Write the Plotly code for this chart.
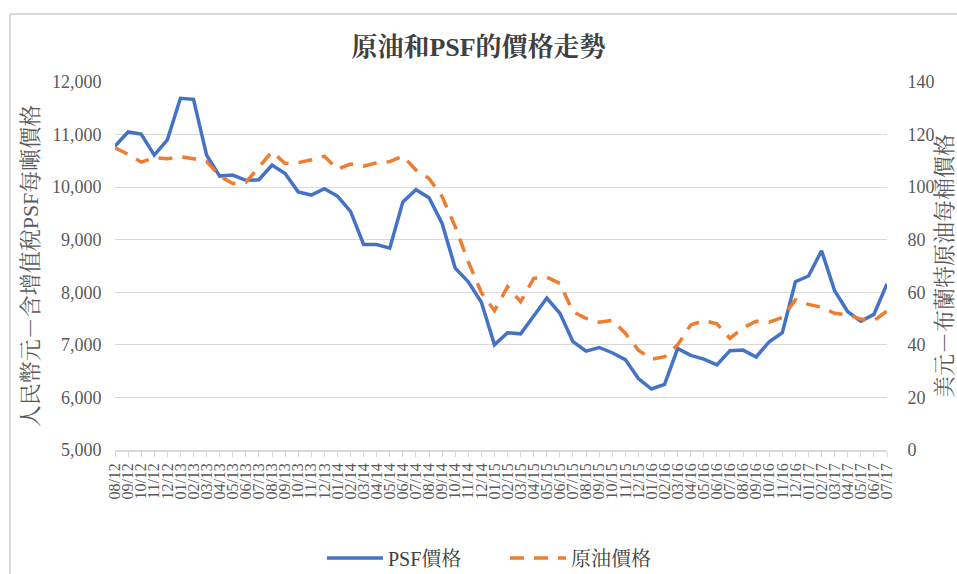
import plotly.graph_objects as go

months = ["08/12","09/12","10/12","11/12","12/12",
          "01/13","02/13","03/13","04/13","05/13","06/13","07/13","08/13","09/13","10/13","11/13","12/13",
          "01/14","02/14","03/14","04/14","05/14","06/14","07/14","08/14","09/14","10/14","11/14","12/14",
          "01/15","02/15","03/15","04/15","05/15","06/15","07/15","08/15","09/15","10/15","11/15","12/15",
          "01/16","02/16","03/16","04/16","05/16","06/16","07/16","08/16","09/16","10/16","11/16","12/16",
          "01/17","02/17","03/17","04/17","05/17","06/17","07/17"]

psf_price = [10780, 11050, 11010, 10610, 10900,
             11690, 11670, 10610, 10210, 10230, 10130, 10140, 10420, 10260, 9910, 9850, 9970,
             9830, 9540, 8910, 8910, 8840, 9720, 9950, 9800, 9310, 8460, 8200, 7810,
             7000, 7230, 7210, 7550, 7890, 7600, 7060, 6880, 6950, 6850, 6720, 6360,
             6160, 6250, 6930, 6800, 6730, 6620, 6890, 6900, 6770, 7060, 7230, 8200,
             8310, 8790, 8030, 7630, 7450, 7580, 8160]

crude_price = [115, 112.5, 109.5, 111.2, 110.8,
               111.6, 110.8, 109.8, 104.2, 101.4, 101.8, 107.8, 113.5, 109.0, 109.3, 110.4, 111.8,
               106.8, 108.8, 108.0, 109.3, 109.7, 111.8, 106.5, 103.3, 96.4, 85.0, 71.6, 59.9,
               53.0, 62.1, 56.4, 65.3, 65.7, 63.4, 52.6, 50.1, 48.6, 49.3, 44.4, 38.0,
               34.5, 35.5, 40.0, 47.6, 49.2, 48.0, 42.5, 46.5, 49.0, 48.6, 50.4, 57.1,
               55.4, 54.3, 52.0, 51.4, 49.8, 49.2, 52.9]

left_ticks = [5000, 6000, 7000, 8000, 9000, 10000, 11000, 12000]
right_ticks = [0, 20, 40, 60, 80, 100, 120, 140]

serif = "'Liberation Serif', 'Noto Serif CJK TC', 'Noto Sans CJK TC', serif"
grey_text = "#404040"

fig = go.Figure()
fig.add_trace(go.Scatter(
    x=months, y=psf_price, name="PSF價格", mode="lines",
    line=dict(color="#4472C4", width=3.5), yaxis="y"))
fig.add_trace(go.Scatter(
    x=months, y=crude_price, name="原油價格", mode="lines",
    line=dict(color="#ED7D31", width=3.5, dash="14px,10px"), yaxis="y2"))

W, H = 957, 574
L, R, T, B = 115, 887, 82, 450
pw, ph = R - L, B - T

def px_x(v):
    return (v - L) / pw

def px_y(v):
    return (B - v) / ph

fig.update_layout(
    width=W, height=H, autosize=False,
    margin=dict(l=L, r=W - R, t=T, b=H - B, autoexpand=False),
    paper_bgcolor="white", plot_bgcolor="white",
    title=dict(text="<b>原油和PSF的價格走勢</b>", x=0.5, xanchor="center",
               y=1 - 47 / H, yanchor="middle", yref="container",
               font=dict(family=serif, size=26, color=grey_text)),
    font=dict(family=serif, color=grey_text),
    showlegend=True,
    legend=dict(orientation="h", x=px_x(322), xanchor="left", y=px_y(558), yanchor="middle",
                font=dict(family=serif, size=20, color=grey_text),
                itemwidth=56, entrywidthmode="pixels", entrywidth=112),
    xaxis=dict(
        type="category", range=[0, len(months) - 1], automargin=False,
        tickmode="linear", dtick=1, tickangle=-90,
        tickfont=dict(family=serif, size=16, color="#595959"),
        showgrid=False, showline=True, linecolor="#d9d9d9", linewidth=1.5,
        ticks="outside", ticklen=5, tickcolor="#d9d9d9", zeroline=False),
    yaxis=dict(
        range=[5000, 12000], tickvals=left_ticks, automargin=False,
        ticktext=[f"{v:,}" for v in left_ticks],
        tickfont=dict(family=serif, size=18, color="#595959"),
        showgrid=True, gridcolor="#d9d9d9", gridwidth=1.2,
        showline=False, zeroline=False,
        ticks="outside", ticklen=9, tickcolor="rgba(0,0,0,0)",
        title=dict(text="人民幣元－含增值稅PSF每噸價格", standoff=7,
                   font=dict(family=serif, size=22, color="#595959"))),
    yaxis2=dict(
        range=[0, 140], tickvals=right_ticks, overlaying="y", side="right",
        automargin=False,
        tickfont=dict(family=serif, size=18, color="#595959"),
        showgrid=False, showline=False, zeroline=False,
        ticks="outside", ticklen=16, tickcolor="rgba(0,0,0,0)",
        title=dict(text="美元－布蘭特原油每桶價格", standoff=20,
                   font=dict(family=serif, size=22, color="#595959"))),
)

# chart frame border (top and left edges visible)
fig.add_shape(type="line", xref="paper", yref="paper",
              x0=px_x(10), x1=px_x(1000), y0=px_y(14), y1=px_y(14),
              line=dict(color="#d9d9d9", width=2))
fig.add_shape(type="line", xref="paper", yref="paper",
              x0=px_x(10), x1=px_x(10), y0=px_y(14), y1=px_y(600),
              line=dict(color="#d9d9d9", width=2))

post = ("document.documentElement.style.margin='0';"
        "document.body.style.margin='0';document.body.style.padding='0';"
        "document.body.style.overflow='hidden';")

fig.write_html("out.html", config={"responsive": False, "displayModeBar": False},
               post_script=post, default_width="957px", default_height="574px")
